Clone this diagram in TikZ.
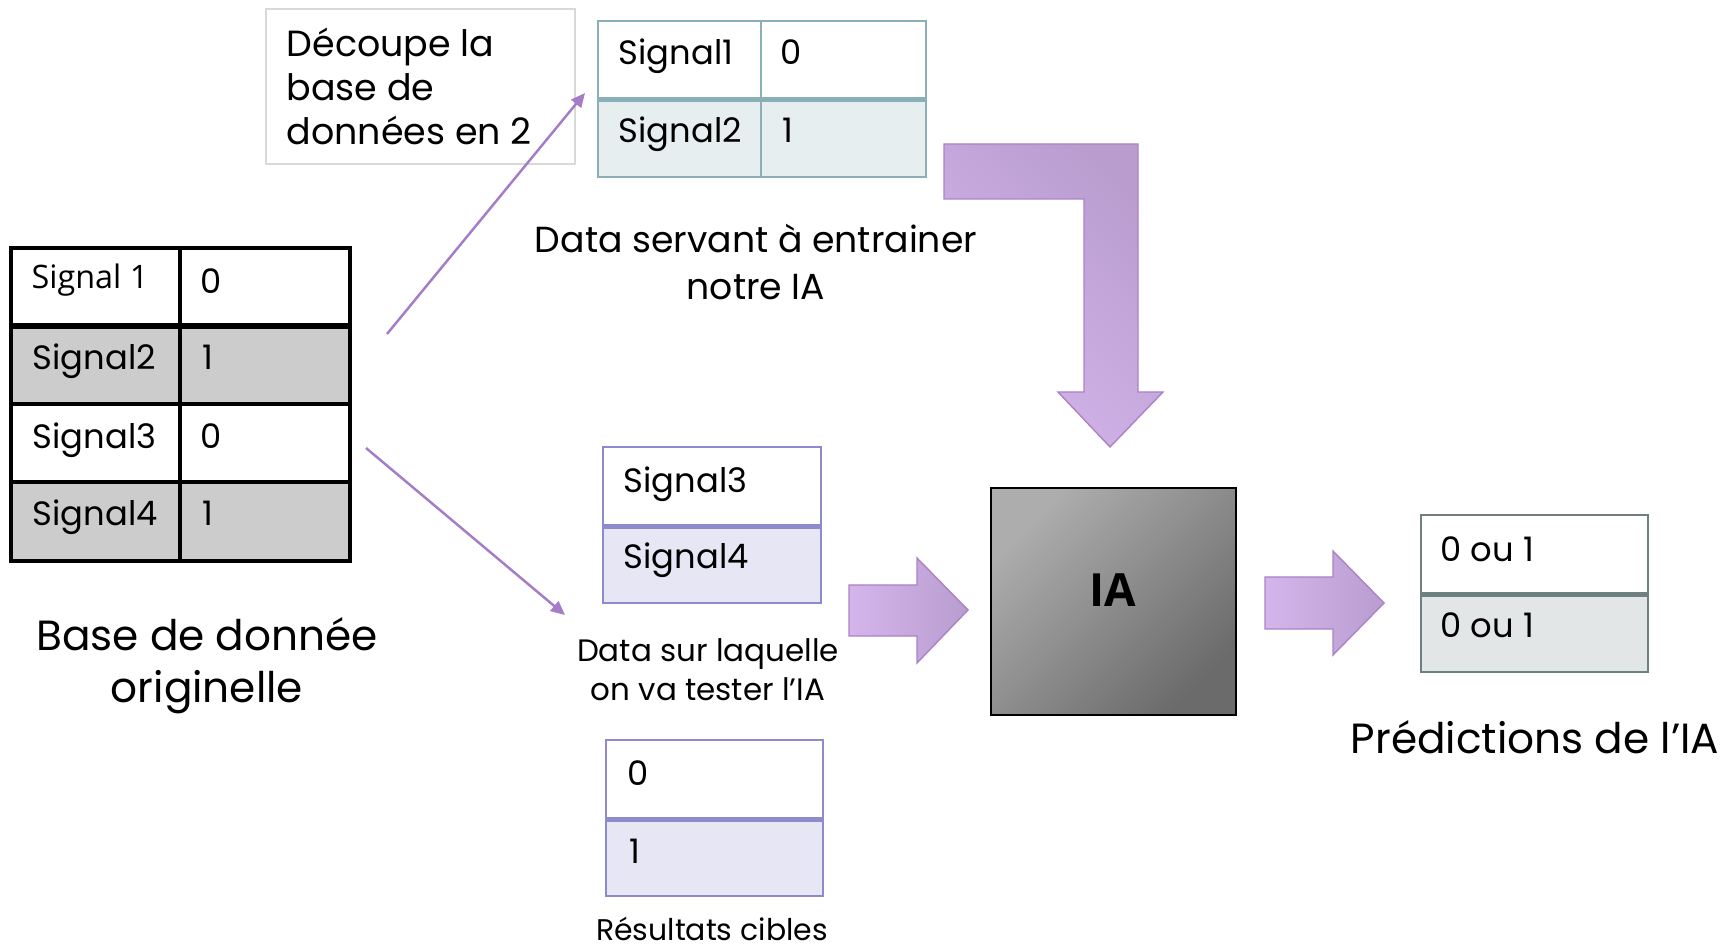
\documentclass[tikz,border=0pt]{standalone}
\usepackage{fontspec}
\setmainfont{Poppins}
\newfontfamily\segoefont{Open Sans}
\usetikzlibrary{arrows.meta,fit}
\definecolor{cellgray}{HTML}{CCCCCC}
\definecolor{tealline}{HTML}{8AAFB8}
\definecolor{tealfill}{HTML}{E6EEF0}
\definecolor{purpline}{HTML}{8E8ACC}
\definecolor{purpfill}{HTML}{E6E6F4}
\definecolor{predline}{HTML}{6E8080}
\definecolor{predfill}{HTML}{E2E6E6}
\definecolor{boxline}{HTML}{D9D9D9}
\definecolor{lavlight}{HTML}{D5B5EC}
\definecolor{lavdark}{HTML}{B99DCF}
\definecolor{lavline}{HTML}{A983C7}
\definecolor{connline}{HTML}{A47CC8}
\newcommand\fsz[2]{\fontsize{#1}{#2}\selectfont}
\begin{document}
\begin{tikzpicture}[x=0.01cm,y=-0.01cm,
  cellbase/.style={rectangle,inner sep=0pt},
  blackcell/.style={cellbase,draw=black,line width=0.9pt},
  tealcell/.style={cellbase,draw=tealline,line width=0.75pt},
  purpcell/.style={cellbase,draw=purpline,line width=0.75pt},
  predcell/.style={cellbase,draw=predline,line width=0.75pt},
  celltxt/.style={inner sep=0pt,anchor=base west,font=\fsz{9.6}{11}},
  smalltxt/.style={inner sep=0pt,anchor=base west,font=\segoefont\fsz{9.2}{11}},
  caption/.style={inner sep=0pt,align=center},
  conn/.style={draw=connline,line width=0.7pt,-{Triangle[length=4pt,width=3.6pt]}},
  blockarrow/.style={draw=lavline,line width=0.4pt,line join=miter},
]
\useasboundingbox (0,0) rectangle (1736,946);

% ---------- left table ----------
\node (L11) [blackcell,fill=white,fit={(11,248)(180,325)}] {};
\node (L12) [blackcell,fill=white,fit={(180,248)(350,325)}] {};
\node (L21) [blackcell,fill=cellgray,fit={(11,325)(180,404)}] {};
\node (L22) [blackcell,fill=cellgray,fit={(180,325)(350,404)}] {};
\node (L31) [blackcell,fill=white,fit={(11,404)(180,482)}] {};
\node (L32) [blackcell,fill=white,fit={(180,404)(350,482)}] {};
\node (L41) [blackcell,fill=cellgray,fit={(11,482)(180,561)}] {};
\node (L42) [blackcell,fill=cellgray,fit={(180,482)(350,561)}] {};
\draw[line width=1.6pt] (L11.south west) -- (L12.south east);
\node (L11t) [smalltxt] at (31,289) {Signal 1};
\node (L12t) [celltxt] at (200,294) {0};
\node (L21t) [celltxt] at (32,370) {Signal2};
\node (L22t) [celltxt] at (202,370) {1};
\node (L31t) [celltxt] at (32,449) {Signal3};
\node (L32t) [celltxt] at (200,449) {0};
\node (L41t) [celltxt] at (32,526) {Signal4};
\node (L42t) [celltxt] at (202,526) {1};
\node (Lcap) [caption,font=\fsz{12}{14.8}] at (207,666) {Base de donnée\\originelle};

% ---------- note box ----------
\node (note) [cellbase,draw=boxline,line width=0.4pt,fit={(266,9)(575,164)}] {};
\node (notet) [inner sep=0pt,align=left,anchor=west,font=\fsz{10.35}{12.5}] at (286,86) {Découpe la\\base de\\données en 2};

% ---------- training table ----------
\node (T11) [tealcell,fill=white,fit={(598,21)(761,98)}] {};
\node (T12) [tealcell,fill=white,fit={(761,21)(926,98)}] {};
\node (T21) [tealcell,fill=tealfill,fit={(598,98)(761,177)}] {};
\node (T22) [tealcell,fill=tealfill,fit={(761,98)(926,177)}] {};
\draw[tealline,line width=1.4pt] (T11.south west) -- (T12.south east);
\node (T11t) [celltxt] at (618,65) {Signal1};
\node (T12t) [celltxt] at (780,65) {0};
\node (T21t) [celltxt] at (618,143) {Signal2};
\node (T22t) [celltxt] at (782,143) {1};
\node (Tcap) [caption,font=\fsz{10.3}{13.1}] at (756,262) {Data servant à entrainer\\notre IA};

% ---------- test table ----------
\node (S1) [purpcell,fill=white,fit={(603,447)(821,525)}] {};
\node (S2) [purpcell,fill=purpfill,fit={(603,525)(821,603)}] {};
\draw[purpline,line width=1.4pt] (S1.south west) -- (S1.south east);
\node (S1t) [celltxt] at (623,492) {Signal3};
\node (S2t) [celltxt] at (623,568) {Signal4};
\node (Scap) [caption,font=\fsz{8.8}{11.1}] at (708,670) {Data sur laquelle\\on va tester l’IA};

% ---------- target table ----------
\node (R1) [purpcell,fill=white,fit={(606,740)(823,818)}] {};
\node (R2) [purpcell,fill=purpfill,fit={(606,818)(823,896)}] {};
\draw[purpline,line width=1.4pt] (R1.south west) -- (R1.south east);
\node (R1t) [celltxt] at (627,785) {0};
\node (R2t) [celltxt] at (629,863) {1};
\node (Rcap) [inner sep=0pt,anchor=base,font=\fsz{8.5}{11.1}] at (712,940) {Résultats cibles};

% ---------- IA box ----------
\node (IA) [cellbase,draw=black,line width=0.8pt,top color=black!32,bottom color=black!58,shading angle=45,fit={(991,488)(1236,715)}] {};
\node (IAt) [inner sep=0pt,font=\segoefont\bfseries\fsz{13}{15}] at (1113,590) {IA};

% ---------- predictions table ----------
\node (P1) [predcell,fill=white,fit={(1421,515)(1648,593)}] {};
\node (P2) [predcell,fill=predfill,fit={(1421,593)(1648,672)}] {};
\draw[predline,line width=1.4pt] (P1.south west) -- (P1.south east);
\node (P1t) [celltxt] at (1440,561) {0 ou 1};
\node (P2t) [celltxt] at (1440,637) {0 ou 1};
\node (Pcap) [inner sep=0pt,anchor=base,font=\fsz{12}{14}] at (1535,753) {Prédictions de l’IA};

% ---------- connectors ----------
\coordinate (c1s) at (387,334);
\coordinate (c1e) at (585,93);
\coordinate (c2s) at (366,448);
\coordinate (c2e) at (565,615);
\draw[conn] (c1s) -- (c1e);
\draw[conn] (c2s) -- (c2e);

% ---------- block arrows ----------
\draw[blockarrow,top color=lavdark,bottom color=lavlight,shading angle=-45]
  (944,144) -- (1138,144) -- (1138,392) -- (1163,392) -- (1110,447) -- (1058,392) -- (1084,392) -- (1084,199) -- (944,199) -- cycle;
\draw[blockarrow,left color=lavlight,right color=lavdark]
  (849,585) -- (917,585) -- (917,558) -- (968,610) -- (917,663) -- (917,636) -- (849,636) -- cycle;
\draw[blockarrow,left color=lavlight,right color=lavdark]
  (1265,577) -- (1333,577) -- (1333,551) -- (1384,603) -- (1333,655) -- (1333,629) -- (1265,629) -- cycle;
\end{tikzpicture}
\end{document}
